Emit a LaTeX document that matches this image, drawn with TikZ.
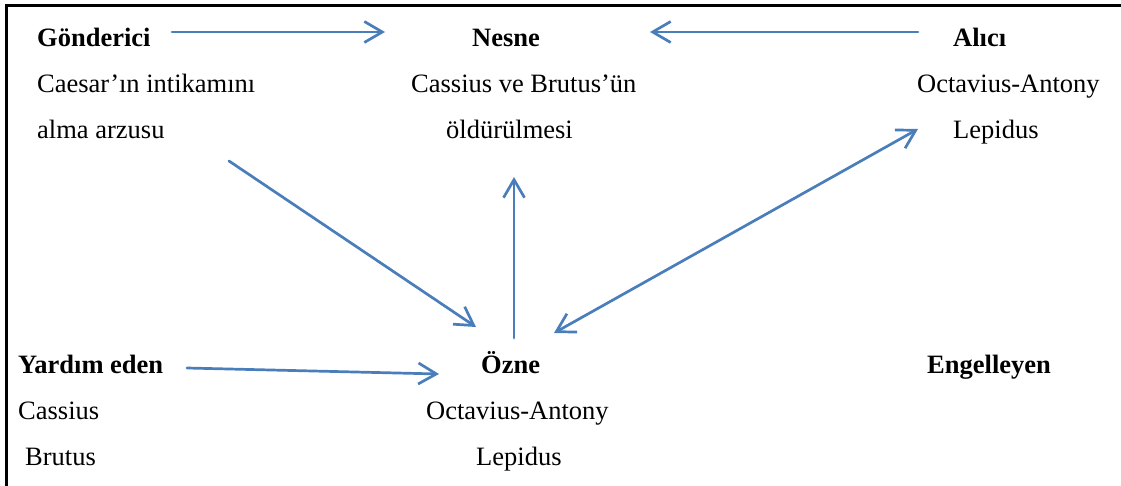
\documentclass[tikz,border=0pt]{standalone}
\usepackage{fontspec}
\setmainfont{Liberation Serif}
\usetikzlibrary{arrows.meta}
\definecolor{linkblue}{RGB}{74,126,187}
\begin{document}
\begin{tikzpicture}[x=1pt,y=-1pt,
  lbl/.style={inner sep=0pt,anchor=base west,font=\fontsize{26.5}{30}\selectfont},
  head/.style={lbl,font=\fontsize{26.5}{30}\selectfont\bfseries},
  barb/.tip={Straight Barb[length=18pt,width=21pt,line width=2.7pt]},
  link/.style={draw=linkblue,line width=2.7pt,line cap=round,-barb},
  frame/.style={draw=black,line width=2.8pt}]
\useasboundingbox (0,0) rectangle (1121,486);

% frame edges
\coordinate (fa) at (1121,5.7);
\coordinate (fb) at (6.8,5.7);
\coordinate (fc) at (6.8,486);
\draw[frame] (fa) -- (fb) -- (fc);

% Sender
\node[head] (gond) at (37,47) {Gönderici};
\node[lbl] (gond1) at (37,93) {Caesar’ın intikamını};
\node[lbl] (gond2) at (37,139) {alma arzusu};

% Object
\node[head] (nesne) at (472,47) {Nesne};
\node[lbl] (nesne1) at (411,93) {Cassius ve Brutus’ün};
\node[lbl] (nesne2) at (446,139) {öldürülmesi};

% Receiver
\node[head] (alici) at (953,47) {Alıcı};
\node[lbl] (alici1) at (917,93) {Octavius-Antony};
\node[lbl] (alici2) at (953,139) {Lepidus};

% Helper
\node[head] (yard) at (18,373) {Yardım eden};
\node[lbl] (yard1) at (18,419) {Cassius};
\node[lbl] (yard2) at (25,465) {Brutus};

% Subject
\node[head] (ozne) at (481,373) {Özne};
\node[lbl] (ozne1) at (426,419) {Octavius-Antony};
\node[lbl] (ozne2) at (476,465) {Lepidus};

% Opponent
\node[head] (eng) at (927,373) {Engelleyen};

% arrow end points
\coordinate (gondR) at (172,32);
\coordinate (nesneL) at (385,32);
\coordinate (aliciL) at (918,32);
\coordinate (nesneR) at (650,32);
\coordinate (gondD) at (229,161);
\coordinate (ozneUL) at (476,327);
\coordinate (ozneU) at (514,338);
\coordinate (nesneD) at (514,177);
\coordinate (ozneUR) at (554,333);
\coordinate (aliciD) at (918,129);
\coordinate (yardR) at (187,368);
\coordinate (ozneL) at (439,374);

\draw[link] (gondR) -- (nesneL);
\draw[link] (aliciL) -- (nesneR);
\draw[link] (gondD) -- (ozneUL);
\draw[link] (ozneU) -- (nesneD);
\draw[link,barb-barb] (ozneUR) -- (aliciD);
\draw[link] (yardR) -- (ozneL);
\end{tikzpicture}
\end{document}
